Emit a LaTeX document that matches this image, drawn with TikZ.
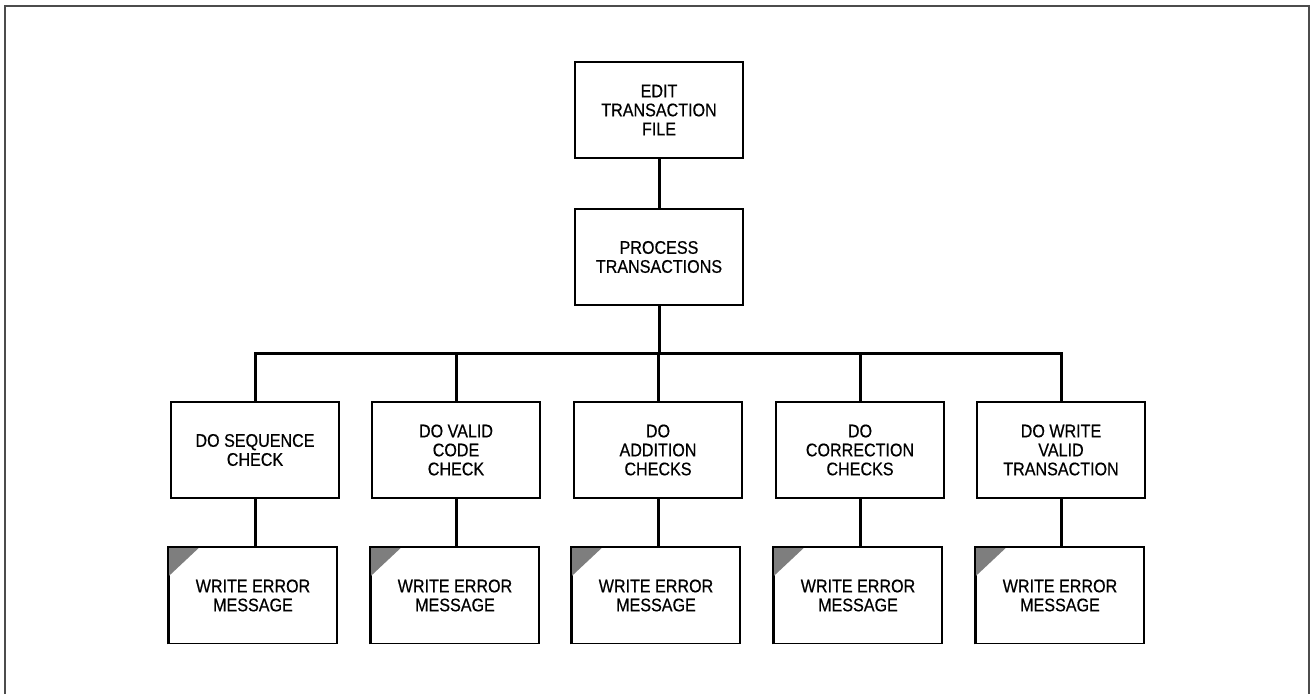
\documentclass[tikz,border=0pt]{standalone}
\usepackage{fontspec}
\setmainfont[FakeStretch=0.88,FakeBold=0.5]{Liberation Sans}
\begin{document}
\begin{tikzpicture}[x=1pt,y=-1pt,
  box/.style={draw, line width=1.7pt, minimum width=168pt, minimum height=96pt, inner sep=0pt, align=center, font=\fontsize{18.3}{19}\selectfont},
  conn/.style={line width=3pt},
  frame/.style={line width=1.2pt, gray!60!black}]
\useasboundingbox (0,0) rectangle (1314,694);
\draw[frame] (5,694) -- (5,6) -- (1309,6) -- (1309,694);
% top levels
\node[box] (edit) at (659,110) {EDIT\\TRANSACTION\\FILE};
\node[box] (proc) at (659,257) {PROCESS\\TRANSACTIONS};
% second row
\node[box] (a) at (255,450) {DO SEQUENCE\\CHECK};
\node[box] (b) at (456,450) {DO VALID\\CODE\\CHECK};
\node[box] (c) at (658,450) {DO\\ADDITION\\CHECKS};
\node[box] (d) at (860,450) {DO\\CORRECTION\\CHECKS};
\node[box] (e) at (1061,450) {DO WRITE\\VALID\\TRANSACTION};
% error rows
\foreach \n/\x in {ea/253,eb/455,ec/656,ed/858,ee/1060}{
  \node[box] (\n) at (\x,595.5) {WRITE ERROR\\MESSAGE};
  \fill[gray!55!black!70] (\n.north west) -- ([xshift=32pt]\n.north west) -- ([yshift=-30pt]\n.north west) -- cycle;
  \draw[line width=1.7pt] (\n.south west) -- (\n.north west) -- (\n.north east);
}
% connectors
\coordinate (bus) at (659,353);
\draw[conn] (edit) -- (proc);
\draw[conn] (proc) -- (bus);
\draw[conn] (a.north) |- (bus) -| (e.north);
\draw[conn] (b.north) -- (b.north |- bus);
\draw[conn] (c.north) -- (c.north |- bus);
\draw[conn] (d.north) -- (d.north |- bus);
\draw[conn] (a) -- (a |- ea.north);
\draw[conn] (b) -- (b |- eb.north);
\draw[conn] (c) -- (c |- ec.north);
\draw[conn] (d) -- (d |- ed.north);
\draw[conn] (e) -- (e |- ee.north);
\end{tikzpicture}
\end{document}
